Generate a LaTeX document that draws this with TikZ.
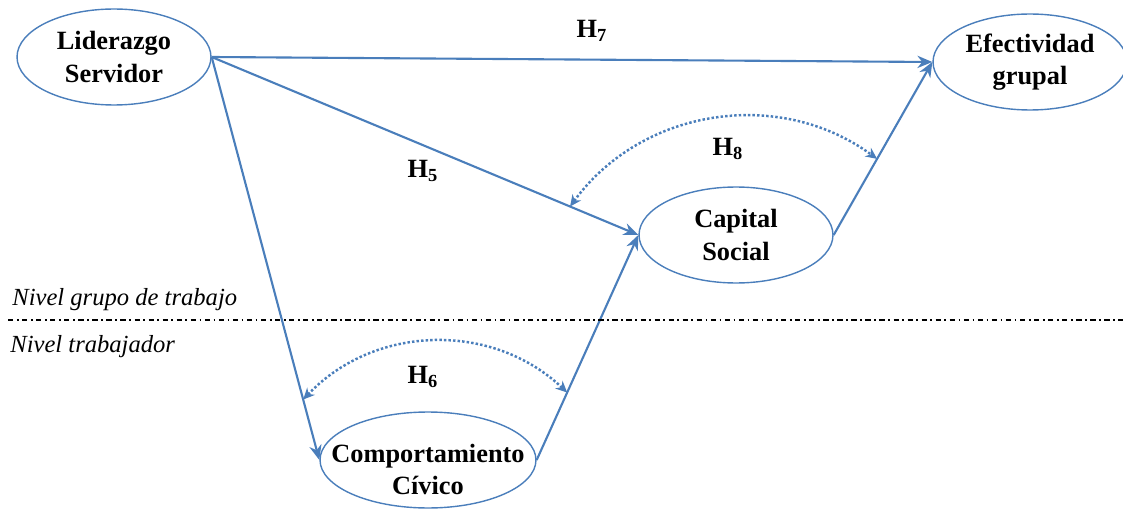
\documentclass[tikz,border=0pt]{standalone}
\usepackage{fontspec}
\setmainfont{Liberation Serif}
\usetikzlibrary{shapes.geometric, arrows.meta, calc}
\definecolor{lineBlue}{HTML}{4A7EBB}

\begin{document}
\begin{tikzpicture}[
    x=0.02cm, y=-0.02cm,
    font=\fontsize{15}{18.5}\selectfont\bfseries, >=Stealth,
    var/.style={draw=lineBlue, line width=0.8pt, ellipse, align=center,
                inner xsep=-14pt, inner ysep=-3pt, minimum width=3.88cm, minimum height=1.92cm},
    link/.style={-{Stealth[length=8.5pt, width=7pt]}, draw=lineBlue, line width=1.2pt},
    corr/.style={{Stealth[length=6.5pt, width=6pt]}-{Stealth[length=6.5pt, width=6pt]},
                 draw=lineBlue, line width=1.4pt, dash pattern={on 1.4pt off 1.2pt}, bend left=45},
    hyp/.style={font=\fontsize{15}{17}\selectfont\bfseries},
    lvl/.style={font=\fontsize{14}{17}\selectfont\itshape, anchor=base west, inner sep=0pt},
  ]
    \useasboundingbox (0,0) rectangle (1123,510);

    % Variables
    \node[var] (lid) at (114,57) {Liderazgo\\Servidor};
    \node[var] (efe) at (1030,62) {Efectividad\\grupal};
    \node[var] (cap) at (736,235) {Capital\\Social};
    \node[var, minimum width=4.32cm] (com) at (428,460)
      {\raisebox{-0.24cm}[\height][\depth]{\begin{tabular}{@{}c@{}}Comportamiento\\Cívico\end{tabular}}};

    % Direct paths
    \draw[link] (lid.east) -- (efe.west);
    \draw[link] (lid.east) -- (cap.west);
    \draw[link] (lid.east) -- (com.west);
    \draw[link] (com.east) -- (cap.west);
    \draw[link] (cap.east) -- (efe.west);

    % Mediation arcs
    \coordinate (h8a) at ($(lid.east)!0.84!(cap.west)$);
    \coordinate (h8b) at ($(cap.east)!0.44!(efe.west)$);
    \coordinate (h6a) at ($(lid.east)!0.85!(com.west)$);
    \coordinate (h6b) at ($(com.east)!0.3!(cap.west)$);
    \draw[corr] (h8a) to (h8b);
    \draw[corr] (h6a) to (h6b);

    % Hypotheses
    \node[hyp] (h7) at (592,31) {H\textsubscript{7}};
    \node[hyp] (h5) at (423,171) {H\textsubscript{5}};
    \node[hyp] (h8) at (728,149) {H\textsubscript{8}};
    \node[hyp] (h6) at (423,377) {H\textsubscript{6}};

    % Levels
    \draw[line width=0.6pt, dash pattern={on 3pt off 2pt on 1pt off 2pt}] (8,320) -- (1123,320);
    \node[lvl] (grp) at (12,305) {Nivel grupo de trabajo};
    \node[lvl] (trab) at (10,352) {Nivel trabajador};
  \end{tikzpicture}
\end{document}
